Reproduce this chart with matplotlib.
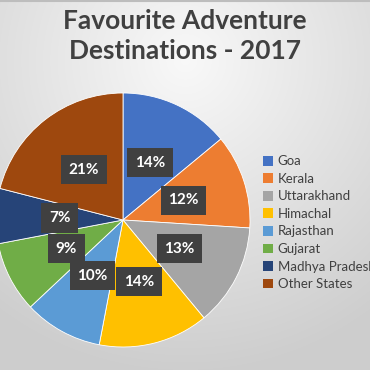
import numpy as np
import matplotlib
matplotlib.use("Agg")
import matplotlib.pyplot as plt
from matplotlib.patches import Patch

categories = ["Goa", "Kerala", "Uttarakhand", "Himachal", "Rajasthan",
              "Gujarat", "Madhya Pradesh", "Other States"]
values = [14, 12, 13, 14, 10, 9, 7, 21]
colors = ["#4472C4", "#ED7D31", "#A5A5A5", "#FFC000", "#5B9BD5",
          "#70AD47", "#264478", "#9E480E"]
title = "Favourite Adventure\nDestinations - 2017"

plt.rcParams['font.family'] = ['Lato', 'DejaVu Sans']

fig = plt.figure(figsize=(3.7, 3.7), dpi=100)

# background gradient
bg = fig.add_axes([0, 0, 1, 1], zorder=-10)
yy, xx = np.mgrid[0:370, 0:370]
d = np.sqrt(((xx - 185) / 370.0) ** 2 + ((yy - 60) / 370.0) ** 2)
v = 0.975 - 0.17 * np.clip(d / 0.85, 0, 1)
bg.imshow(np.dstack([v, v, v]), extent=[0, 1, 0, 1], aspect='auto', origin='upper')
bg.axhline(0.997, color='#bdbdbd', lw=1.5)
bg.set_axis_off()

cx, cy, r = 123 / 370, (370 - 220) / 370, 127 / 370
ax = fig.add_axes([cx - r, cy - r, 2 * r, 2 * r])
wedges, texts, autotexts = ax.pie(
    values, colors=colors, startangle=90, counterclock=False,
    autopct=lambda p: f"{p:.0f}%", pctdistance=0.5,
    wedgeprops=dict(linewidth=0.6, edgecolor='white'),
    textprops=dict(color='white', fontsize=11, fontweight='bold'))
for t in autotexts:
    t.set_bbox(dict(boxstyle='square,pad=0.5', facecolor='#404040', edgecolor='none'))
ax.set_xlim(-1, 1)
ax.set_ylim(-1, 1)
ax.set_aspect('equal')
ax.set_axis_off()

fig.text(0.5, 0.975, title, ha='center', va='top', fontsize=19,
         fontweight='bold', color='#404040', linespacing=1.3)

handles = [Patch(facecolor=c, edgecolor='none') for c in colors]
leg = fig.legend(handles, categories, loc='upper left',
                 bbox_to_anchor=(258 / 370, 1 - 150 / 370), frameon=False,
                 fontsize=9.5, handlelength=0.75, handleheight=0.75,
                 handletextpad=0.35, labelspacing=0.42, borderaxespad=0)
for t in leg.get_texts():
    t.set_color('#404040')

fig.savefig("out.png", dpi=100)
